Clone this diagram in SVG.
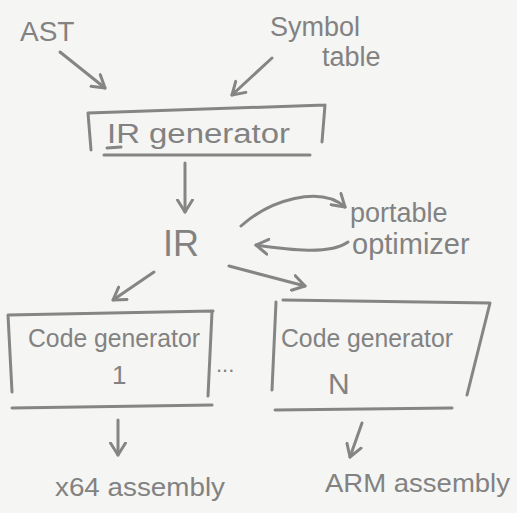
<svg xmlns="http://www.w3.org/2000/svg" width="517" height="513" viewBox="0 0 517 513">
  <style>
    .ink { fill: none; stroke: #858585; stroke-width: 3; stroke-linecap: round; stroke-linejoin: round; }
    .txt { fill: #828282; font-family: "Liberation Sans", "DejaVu Sans", sans-serif; }
  </style>
  <defs>
    <marker id="head" viewBox="0 0 12 12" refX="9" refY="6" markerWidth="6" markerHeight="6" orient="auto" markerUnits="strokeWidth">
      <path d="M1,1 L9,6 L1,11" fill="none" stroke="#858585" stroke-width="2" stroke-linecap="round" stroke-linejoin="round"/>
    </marker>
  </defs>

  <rect width="517" height="513" fill="#f5f5f3"/>

  <!-- inputs -->
  <g id="ast">
    <text class="txt" x="20" y="41" font-size="28">AST</text>
  </g>
  <g id="symbol-table">
    <text class="txt" x="270" y="36" font-size="27">Symbol</text>
    <text class="txt" x="322" y="66" font-size="27">table</text>
  </g>

  <!-- IR generator box -->
  <g id="ir-generator">
    <path class="ink" d="M88,113 L325,105 M88,113 L91,150 M325,105 L322,142 M104,155 L310,155"/>
    <text class="txt" x="107" y="143" font-size="27" textLength="183" lengthAdjust="spacingAndGlyphs">IR generator</text>
    <path class="ink" d="M107,148 L121,147"/>
  </g>

  <!-- intermediate representation -->
  <g id="ir">
    <text class="txt" x="163" y="256" font-size="36">IR</text>
  </g>

  <g id="optimizer">
    <text class="txt" x="350" y="222" font-size="27">portable</text>
    <text class="txt" x="352" y="254" font-size="29">optimizer</text>
  </g>

  <!-- code generators -->
  <g id="codegen-1">
    <path class="ink" d="M8,315 L213,311 M8,315 L12,392 M212,312 L208,396 M12,408 L212,405"/>
    <text class="txt" x="28" y="347" font-size="25" textLength="172" lengthAdjust="spacingAndGlyphs">Code generator</text>
    <text class="txt" x="112" y="384" font-size="26">1</text>
  </g>

  <g id="dots">
    <text class="txt" x="216" y="372" font-size="22">...</text>
  </g>

  <g id="codegen-n">
    <path class="ink" d="M283,300 L490,303 M276,302 L272,390 M490,303 L467,395 M275,410 L452,408"/>
    <text class="txt" x="281" y="347" font-size="25" textLength="172" lengthAdjust="spacingAndGlyphs">Code generator</text>
    <text class="txt" x="328" y="394" font-size="30">N</text>
  </g>

  <!-- outputs -->
  <g id="x64">
    <text class="txt" x="55" y="496" font-size="26" textLength="170" lengthAdjust="spacingAndGlyphs">x64 assembly</text>
  </g>
  <g id="arm">
    <text class="txt" x="325" y="492" font-size="26" textLength="185" lengthAdjust="spacingAndGlyphs">ARM assembly</text>
  </g>

  <!-- connectors -->
  <g id="connectors">
    <path class="ink" d="M60,52 L105,88" marker-end="url(#head)"/>
    <path class="ink" d="M272,58 L232,95" marker-end="url(#head)"/>
    <path class="ink" d="M185,163 L185,212" marker-end="url(#head)"/>
    <path class="ink" d="M241,226 C270,200 320,185 345,207" marker-end="url(#head)"/>
    <path class="ink" d="M348,242 C330,255 290,250 256,245" marker-end="url(#head)"/>
    <path class="ink" d="M154,272 L113,300" marker-end="url(#head)"/>
    <path class="ink" d="M229,266 L305,286" marker-end="url(#head)"/>
    <path class="ink" d="M118,420 L118,455" marker-end="url(#head)"/>
    <path class="ink" d="M362,423 L350,457" marker-end="url(#head)"/>
  </g>
</svg>
